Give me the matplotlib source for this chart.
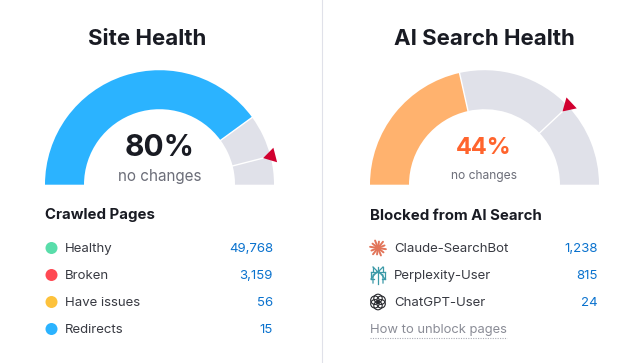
import numpy as np
import matplotlib
matplotlib.use("Agg")
import matplotlib.pyplot as plt
from matplotlib.patches import Wedge, Polygon, Circle

plt.rcParams['font.family'] = ['Inter', 'DejaVu Sans']

# Data
site_score = 80
site_target = 92
ai_score = 43
ai_target = 76
ai_label = "44%"
site_rows = ["Healthy", "Broken", "Have issues", "Redirects"]
site_values = ["49,768", "3,159", "56", "15"]
site_colors = ["#59DDAA", "#FF4953", "#FDC23C", "#2BB3FF"]
ai_rows = ["Claude-SearchBot", "Perplexity-User", "ChatGPT-User"]
ai_values = ["1,238", "815", "24"]

W, H = 640, 363
fig = plt.figure(figsize=(W/100, H/100), dpi=100, facecolor="white")
ax = fig.add_axes([0, 0, 1, 1])
ax.set_xlim(0, W); ax.set_ylim(H, 0); ax.axis("off")

GREY = "#E0E1E9"; DARK = "#191B23"; MID = "#6C6E79"; BLUE = "#0A72CE"; TXT = "#383A42"
R, r, BASE = 114.5, 75.5, 184.7


def gauge(cx, score, target, color):
    # the y axis is inverted, so 180..360 degrees is the upper half on screen
    for p0, p1, c in [(0, score, color), (score, target, GREY), (target, 100, GREY)]:
        ax.add_patch(Wedge((cx, BASE), R, 180 + p0*1.8, 180 + p1*1.8, width=R-r, fc=c, ec="none"))
    for p in (score, target):
        a = np.pi * (1 - p / 100)
        ax.plot([cx + (r-1)*np.cos(a), cx + (R+1)*np.cos(a)],
                [BASE - (r-1)*np.sin(a), BASE - (R+1)*np.sin(a)],
                color="white", lw=1.0, solid_capstyle="butt")
    a = np.pi * (1 - target / 100)
    ux, uy = np.cos(a), -np.sin(a)
    tx, ty = -uy, ux
    mx, my = cx + R*ux, BASE + R*uy
    pts = [(mx - 7.5*ux, my - 7.5*uy),
           (mx + 5*ux + 7.5*tx, my + 5*uy + 7.5*ty),
           (mx + 5*ux - 7.5*tx, my + 5*uy - 7.5*ty)]
    ax.add_patch(Polygon(pts, closed=True, fc="#D1002F", ec="none", zorder=5))


gauge(159.5, site_score, site_target, "#2BB3FF")
gauge(484.5, ai_score, ai_target, "#FFB26E")

ax.plot([321.5, 321.5], [0, H], color="#E0E1E9", lw=0.8)

ax.text(147, 39, "Site Health", ha="center", va="center", fontsize=16, fontweight="bold", color=DARK)
ax.text(484.5, 39, "AI Search Health", ha="center", va="center", fontsize=16, fontweight="bold", color=DARK)

ax.text(159.5, 148, f"{site_score}%", ha="center", va="center", fontsize=21.5, fontweight="bold", color=DARK)
ax.text(159.5, 176.5, "no changes", ha="center", va="center", fontsize=11, color=MID)
ax.text(483.5, 148, ai_label, ha="center", va="center", fontsize=17, fontweight="bold", color="#FF642D")
ax.text(484, 176, "no changes", ha="center", va="center", fontsize=8.7, color=MID)

ax.text(45, 215.5, "Crawled Pages", ha="left", va="center", fontsize=10.8, fontweight="bold", color=DARK)
ax.text(370, 215.5, "Blocked from AI Search", ha="left", va="center", fontsize=10.8, fontweight="bold", color=DARK)

rows_y = [248, 275, 302, 329]
for y, name, val, c in zip(rows_y, site_rows, site_values, site_colors):
    ax.add_patch(Circle((51.5, y), 6, fc=c, ec="none"))
    ax.text(65, y + 0.8, name, ha="left", va="center", fontsize=9.5, color=TXT)
    ax.text(273, y + 0.8, val, ha="right", va="center", fontsize=9.5, color=BLUE)

for y, name, val in zip(rows_y, ai_rows, ai_values):
    ax.text(394, y + 0.8, name, ha="left", va="center", fontsize=9.5, color=TXT)
    ax.text(598, y + 0.8, val, ha="right", va="center", fontsize=9.5, color=BLUE)

# Icons: Claude burst
cx, cy = 378, rows_y[0]
for a, l in zip(np.linspace(0, 2*np.pi, 13)[:-1], [8, 7, 8, 6.5, 8, 7, 8, 7, 8, 6.5, 8, 7]):
    ax.plot([cx, cx + l*np.cos(a + 0.15)], [cy, cy + l*np.sin(a + 0.15)], color="#E2755A", lw=1.4, solid_capstyle="round")
# Perplexity
cx, cy = 378, rows_y[1]
pc = "#3C9AA8"
segs = [[(-7, -3.5), (-1, -3.5)], [(1, -3.5), (7, -3.5)], [(-7, 4), (-4, 4)], [(4, 4), (7, 4)],
        [(-7, -3.5), (-7, 4)], [(7, -3.5), (7, 4)], [(0, -8.5), (0, 8.5)],
        [(-5, -8), (0, -3)], [(5, -8), (0, -3)], [(-5, -8), (-5, -3.5)], [(5, -8), (5, -3.5)],
        [(-5, 8), (-5, 0), (0, -3)], [(5, 8), (5, 0), (0, -3)], [(-7, 4), (-1, -3.5)], [(7, 4), (1, -3.5)]]
for s in segs:
    xs, ys = zip(*s)
    ax.plot(np.array(xs) + cx, np.array(ys) + cy, color=pc, lw=0.9)
# ChatGPT knot
cx, cy = 378, rows_y[2]
for a in np.deg2rad([30, 90, 150, 210, 270, 330]):
    ax.add_patch(Circle((cx + 3.6*np.cos(a), cy + 3.6*np.sin(a)), 4.2, fc="none", ec="#26272C", lw=0.8))

# link
ax.text(370, 330, "How to unblock pages", ha="left", va="center", fontsize=9.35, color="#8A8C96")
ax.plot([370, 507], [337.5, 337.5], color="#A9ABB4", lw=0.8, ls=(0, (1, 1.2)))

fig.savefig("out.png", dpi=100, facecolor="white")
